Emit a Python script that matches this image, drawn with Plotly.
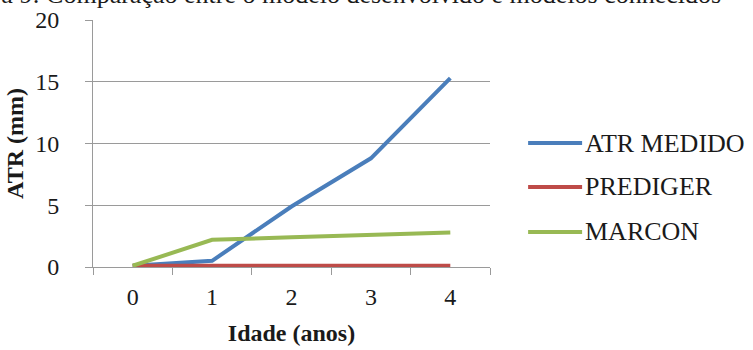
import plotly.graph_objects as go

# Age in years (category axis) and ATR values in mm
idade = ["0", "1", "2", "3", "4"]
atr_medido = [0.1, 0.5, 4.9, 8.8, 15.3]
prediger = [0.1, 0.1, 0.1, 0.1, 0.1]
marcon = [0.1, 2.2, 2.4, 2.6, 2.8]

series_names = ["ATR MEDIDO", "PREDIGER", "MARCON"]
series_values = [atr_medido, prediger, marcon]
series_colors = ["#4A7EBB", "#BE4B48", "#98B954"]

FONT = "Times New Roman, Liberation Serif, serif"
GRID = "#9A9A9A"

fig = go.Figure()
for name, vals, color in zip(series_names, series_values, series_colors):
    fig.add_trace(go.Scatter(
        x=idade, y=vals, mode="lines", name=name,
        line=dict(color=color, width=4), showlegend=False,
    ))

# Legend drawn beside the plot: a coloured line segment and the series name
legend_y = [0.502, 0.324, 0.142]
for name, color, ly in zip(series_names, series_colors, legend_y):
    fig.add_shape(type="line", xref="paper", yref="paper",
                  x0=1.096, x1=1.232, y0=ly, y1=ly,
                  line=dict(color=color, width=4))
    fig.add_annotation(xref="paper", yref="paper", x=1.235, y=ly,
                       xanchor="left", yanchor="middle", showarrow=False,
                       text=name, font=dict(family=FONT, size=26, color="#1a1a1a"))

# Figure caption running above the chart
fig.add_annotation(xref="paper", yref="paper", x=1.588, y=1.104,
                   xanchor="right", yanchor="middle", showarrow=False,
                   text="Figura 9: Comparação entre o modelo desenvolvido e modelos conhecidos",
                   font=dict(family=FONT, size=26, color="#1a1a1a"))

fig.update_layout(
    width=753, height=350,
    margin=dict(l=93, r=263, t=20, b=83),
    paper_bgcolor="white", plot_bgcolor="white",
    font=dict(family=FONT, size=24, color="#1a1a1a"),
)
fig.update_xaxes(
    type="category", tickson="boundaries", ticks="outside", ticklen=7,
    tickcolor=GRID, showline=True, linecolor=GRID, linewidth=1,
    showgrid=False, range=[-0.5, 4.5], ticklabelstandoff=8, automargin=False,
    tickfont=dict(family=FONT, size=24),
    title=dict(text="<b>Idade (anos)</b>", font=dict(family=FONT, size=24), standoff=15),
)
fig.update_yaxes(
    range=[0, 20], dtick=5, ticks="outside", ticklen=7, tickcolor=GRID,
    showline=True, linecolor=GRID, linewidth=1,
    showgrid=True, gridcolor=GRID, gridwidth=1, zeroline=False,
    ticklabelstandoff=21, automargin=False,
    tickfont=dict(family=FONT, size=24),
    title=dict(text="<b>ATR (mm)</b>", font=dict(family=FONT, size=24), standoff=4),
)

fig.write_html("out.html")
